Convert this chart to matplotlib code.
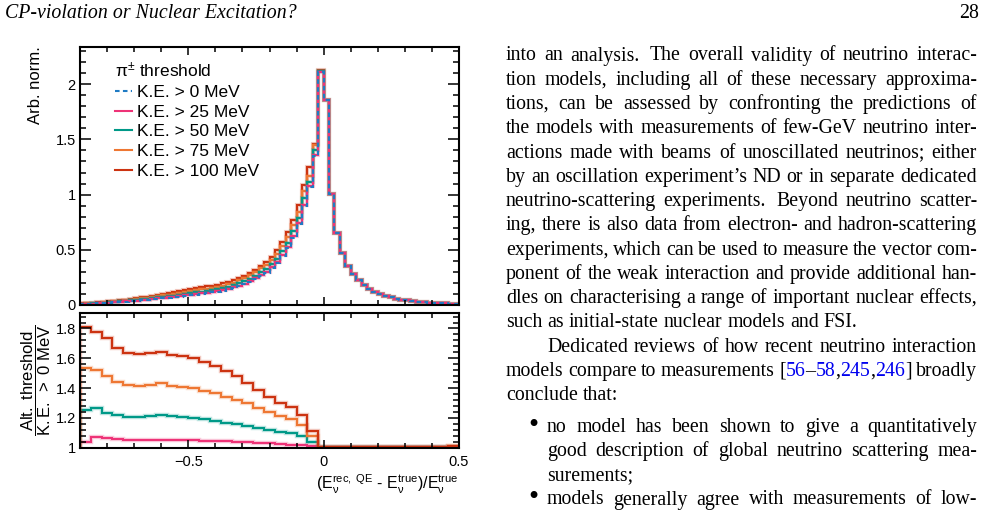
import re

import matplotlib
matplotlib.use("Agg")
import matplotlib.pyplot as plt
import numpy as np
from matplotlib.ticker import FuncFormatter, MultipleLocator

plt.rcParams["font.family"] = ["Liberation Sans", "DejaVu Sans"]
plt.rcParams["mathtext.fontset"] = "custom"
plt.rcParams["mathtext.rm"] = "Liberation Sans"
plt.rcParams["mathtext.it"] = "Liberation Sans:italic"
plt.rcParams["mathtext.bf"] = "Liberation Sans:bold"
plt.rcParams["mathtext.sf"] = "Liberation Sans"


# ---- histogram data ----
FINE_EDGES = np.linspace(-0.9, 0.5, 71)    # 0.02 wide bins, upper panel
RATIO_EDGES = np.linspace(-0.9, 0.5, 36)   # 0.04 wide bins, ratio panel

# bins with E_rec > E_true are the same for every threshold
TAIL_POS = [1.860, 1.005, 0.652, 0.468, 0.355, 0.279, 0.223, 0.177, 0.145, 0.120,
            0.100, 0.084, 0.070, 0.058, 0.049, 0.041, 0.035, 0.030, 0.026, 0.022,
            0.019, 0.016, 0.014, 0.012, 0.010]

KE0_NEG = [0.008, 0.010, 0.012, 0.014, 0.017, 0.020, 0.023, 0.026, 0.030, 0.034,
           0.038, 0.042, 0.046, 0.051, 0.056, 0.061, 0.066, 0.071, 0.077, 0.083,
           0.089, 0.095, 0.102, 0.108, 0.114, 0.121, 0.130, 0.141, 0.154, 0.169,
           0.187, 0.208, 0.233, 0.262, 0.294, 0.332, 0.380, 0.442, 0.516, 0.610,
           0.735, 0.895, 1.070, 1.350, 2.110]
KE25_NEG = [0.008, 0.010, 0.013, 0.015, 0.018, 0.021, 0.024, 0.027, 0.032, 0.036,
            0.040, 0.044, 0.048, 0.054, 0.059, 0.064, 0.069, 0.075, 0.081, 0.087,
            0.094, 0.100, 0.107, 0.113, 0.119, 0.126, 0.136, 0.147, 0.160, 0.176,
            0.194, 0.216, 0.241, 0.271, 0.303, 0.342, 0.390, 0.453, 0.526, 0.622,
            0.747, 0.909, 1.080, 1.360, 2.113]
KE50_NEG = [0.010, 0.013, 0.015, 0.018, 0.021, 0.025, 0.028, 0.032, 0.036, 0.041,
            0.046, 0.051, 0.056, 0.062, 0.068, 0.074, 0.080, 0.086, 0.093, 0.100,
            0.107, 0.114, 0.122, 0.129, 0.135, 0.143, 0.152, 0.165, 0.178, 0.196,
            0.214, 0.238, 0.263, 0.296, 0.329, 0.372, 0.421, 0.489, 0.566, 0.669,
            0.792, 0.965, 1.110, 1.405, 2.118]
KE75_NEG = [0.012, 0.015, 0.018, 0.021, 0.025, 0.030, 0.033, 0.038, 0.043, 0.048,
            0.054, 0.059, 0.065, 0.072, 0.080, 0.087, 0.093, 0.100, 0.108, 0.117,
            0.124, 0.133, 0.141, 0.149, 0.156, 0.165, 0.174, 0.189, 0.203, 0.223,
            0.243, 0.270, 0.295, 0.331, 0.365, 0.412, 0.460, 0.535, 0.617, 0.729,
            0.845, 1.030, 1.165, 1.445, 2.124]
KE100_NEG = [0.014, 0.018, 0.021, 0.024, 0.029, 0.033, 0.038, 0.043, 0.049, 0.055,
             0.062, 0.069, 0.075, 0.084, 0.092, 0.099, 0.107, 0.115, 0.124, 0.133,
             0.142, 0.151, 0.160, 0.168, 0.176, 0.185, 0.196, 0.210, 0.226, 0.245,
             0.266, 0.291, 0.320, 0.355, 0.392, 0.437, 0.495, 0.572, 0.660, 0.770,
             0.905, 1.085, 1.250, 1.460, 2.128]

RATIO25 = [1.040, 1.070, 1.063, 1.056, 1.052, 1.052, 1.050, 1.050, 1.050, 1.050,
           1.050, 1.048, 1.045, 1.042, 1.040, 1.037, 1.034, 1.030, 1.025, 1.020,
           1.016, 1.010, 1.003, 1.003, 1.003, 1.003, 1.003, 1.003, 1.003, 1.003,
           1.003, 1.003, 1.003, 1.003, 1.003]
RATIO50 = [1.253, 1.264, 1.231, 1.219, 1.208, 1.204, 1.213, 1.217, 1.213, 1.208,
           1.201, 1.193, 1.181, 1.168, 1.157, 1.146, 1.130, 1.119, 1.107, 1.096,
           1.078, 1.040, 1.003, 1.003, 1.003, 1.003, 1.003, 1.003, 1.003, 1.003,
           1.003, 1.003, 1.003, 1.003, 1.003]
RATIO75 = [1.533, 1.521, 1.481, 1.443, 1.421, 1.414, 1.421, 1.432, 1.414, 1.405,
           1.398, 1.383, 1.365, 1.342, 1.320, 1.300, 1.265, 1.240, 1.210, 1.195,
           1.150, 1.078, 1.003, 1.003, 1.003, 1.003, 1.003, 1.003, 1.003, 1.003,
           1.003, 1.003, 1.003, 1.006, 1.010]
RATIO100 = [1.812, 1.778, 1.734, 1.667, 1.638, 1.629, 1.638, 1.645, 1.622, 1.615,
            1.600, 1.577, 1.548, 1.517, 1.481, 1.436, 1.387, 1.342, 1.298, 1.271,
            1.219, 1.112, 1.004, 1.004, 1.004, 1.004, 1.004, 1.004, 1.004, 1.004,
            1.004, 1.004, 1.004, 1.008, 1.012]

LABELS = ["K.E. > 0 MeV", "K.E. > 25 MeV", "K.E. > 50 MeV", "K.E. > 75 MeV", "K.E. > 100 MeV"]
COLORS = ["#1f7bc4", "#ee3377", "#009988", "#ee7733", "#cc3311"]

# ---- page text ----
HEADER_LEFT = "CP-violation or Nuclear Excitation?"
HEADER_RIGHT = "28"
BODY_LINES = [
    "into an analysis.  The overall validity of neutrino interac-",
    "tion models, including all of these necessary approxima-",
    "tions, can be assessed by confronting the predictions of",
    "the models with measurements of few-GeV neutrino inter-",
    "actions made with beams of unoscillated neutrinos; either",
    "by an oscillation experiment\u2019s ND or in separate dedicated",
    "neutrino-scattering experiments.  Beyond neutrino scatter-",
    "ing, there is also data from electron- and hadron-scattering",
    "experiments, which can be used to measure the vector com-",
    "ponent of the weak interaction and provide additional han-",
    "dles on characterising a range of important nuclear effects,",
    "such as initial-state nuclear models and FSI.",
    "Dedicated reviews of how recent neutrino interaction",
    "models compare to measurements [{56}\u2013{58},{245},{246}] broadly",
    "conclude that:",
    "no model has been shown to give a quantitatively",
    "good description of global neutrino scattering mea-",
    "surements;",
    "models generally agree with measurements of low-",
]

W, H = 985, 515
fig = plt.figure(figsize=(W / 100, H / 100), dpi=100)


def px_box(left, top, right, bottom):
    return [left / W, 1 - bottom / H, (right - left) / W, (bottom - top) / H]


ax1 = fig.add_axes(px_box(80, 46.7, 459, 305))
ax2 = fig.add_axes(px_box(80, 312.7, 459, 447.7))

fmt = FuncFormatter(lambda v, _: f"{v:g}".replace("-", "\u2212"))

# upper panel
series = [KE0_NEG, KE25_NEG, KE50_NEG, KE75_NEG, KE100_NEG]
handles = [None] * 5
for idx in [4, 3, 2, 1, 0]:
    vals = np.array(series[idx] + TAIL_POS)
    style = (0, (2.2, 1.6)) if idx == 0 else "-"
    if idx != 0:
        ax1.stairs(vals, FINE_EDGES, color=COLORS[idx], lw=3.0, alpha=0.25)
    handles[idx] = ax1.stairs(vals, FINE_EDGES, color=COLORS[idx], lw=1.5,
                              linestyle=style, label=LABELS[idx])

ax1.set_xlim(-0.9, 0.5)
ax1.set_ylim(0, 2.34)
ax1.set_ylabel("Arb. norm.", loc="top", fontsize=12, labelpad=9)
leg = ax1.legend(handles, LABELS, title="\u03c0$^{\\pm}$ threshold", loc="upper left",
                 bbox_to_anchor=(0.092, 0.944), frameon=False, fontsize=12.5,
                 title_fontsize=12.5, handlelength=1.0, handletextpad=0.25,
                 labelspacing=0.26, borderpad=0, borderaxespad=0, alignment="left")

# ratio panel
ratios = [RATIO25, RATIO50, RATIO75, RATIO100]
for idx, r in zip([1, 2, 3, 4], ratios):
    ax2.stairs(r, RATIO_EDGES, color=COLORS[idx], lw=3.2, alpha=0.25)
    ax2.stairs(r, RATIO_EDGES, color=COLORS[idx], lw=1.5)

ax2.set_xlim(-0.9, 0.5)
ax2.set_ylim(1.0, 1.906)
ax2.set_ylabel(r"$\dfrac{\mathrm{Alt.\ threshold}}{\mathrm{K.E.}\ >\ 0\ \mathrm{MeV}}$",
               fontsize=12, labelpad=2)
ax2.set_xlabel(r"($\mathrm{E}_{\mathrm{\nu}}^{\mathrm{rec,\ QE}}$ - "
               r"$\mathrm{E}_{\mathrm{\nu}}^{\mathrm{true}}$)/$\mathrm{E}_{\mathrm{\nu}}^{\mathrm{true}}$",
               loc="right", fontsize=11.5, labelpad=3)

for ax, ymaj, ymin in [(ax1, 0.5, 0.1), (ax2, 0.2, 0.04)]:
    ax.xaxis.set_major_locator(MultipleLocator(0.5))
    ax.xaxis.set_minor_locator(MultipleLocator(0.1))
    ax.yaxis.set_major_locator(MultipleLocator(ymaj))
    ax.yaxis.set_minor_locator(MultipleLocator(ymin))
    ax.xaxis.set_major_formatter(fmt)
    ax.yaxis.set_major_formatter(fmt)
    ax.tick_params(which="both", direction="in", top=True, right=True,
                   labelsize=10.5, width=1.1, pad=3)
    ax.tick_params(axis="y", which="major", length=8)
    ax.tick_params(axis="y", which="minor", length=4)
    ax.tick_params(axis="x", which="major", length=6)
    ax.tick_params(axis="x", which="minor", length=3.5)
    for sp in ax.spines.values():
        sp.set_linewidth(1.5)
ax1.tick_params(labelbottom=False)
ax2.tick_params(axis="x", pad=5)

# ---- page text ----
renderer = fig.canvas.get_renderer()
SERIF = "Liberation Serif"
LINK_BLUE = "#0000ee"


def text_width(s, size, **kw):
    t = fig.text(0, 0, s, fontsize=size, family=SERIF, **kw)
    w = t.get_window_extent(renderer=renderer).width
    t.remove()
    return w


body_size = 10 * 350.0 / text_width(BODY_LINES[11], 10)


def segments(word):
    out = []
    for part in re.split(r"(\{[^}]*\})", word):
        if not part:
            continue
        if part.startswith("{"):
            out.append((part[1:-1], LINK_BLUE))
        else:
            out.append((part, "black"))
    return out


def draw_line(line, x0, x1, y_base, justify):
    pieces = re.split(r"( +)", line)
    words = pieces[0::2]
    gaps = [len(g) ** 0.6 for g in pieces[1::2]]
    segs = [segments(w) for w in words]
    widths = [[text_width(s, body_size) for s, _ in sg] for sg in segs]
    total = sum(sum(w) for w in widths)
    if justify and gaps:
        unit = (x1 - x0 - total) / sum(gaps)
    else:
        unit = text_width("a a", body_size) - text_width("aa", body_size)
    x = x0
    for i, sg in enumerate(segs):
        for (s, c), w in zip(sg, widths[i]):
            fig.text(x / W, 1 - y_base / H, s, fontsize=body_size, family=SERIF,
                     color=c, va="baseline", ha="left")
            x += w
        if i < len(gaps):
            x += gaps[i] * unit


TEXT_L, TEXT_R, INDENT = 506, 977, 547
layout = []
for k in range(15):
    layout.append((55 + 24.26 * k, TEXT_L, True))
layout[11] = (layout[11][0], TEXT_L, False)
layout[12] = (layout[12][0], INDENT, True)
layout[14] = (layout[14][0], TEXT_L, False)
layout += [(426.7, INDENT, True), (450.7, INDENT, True), (474.7, INDENT, False), (499.0, INDENT, True)]

for line, (yc, x0, just) in zip(BODY_LINES, layout):
    draw_line(line, x0, TEXT_R, yc + 5.5, just)

for yc in (426.7, 499.0):
    fig.text(528 / W, 1 - (yc + 6.5) / H, "\u2022", fontsize=body_size * 1.45, family=SERIF,
             va="baseline", ha="left")

fig.text(5 / W, 1 - 18 / H, HEADER_LEFT, fontsize=body_size, family=SERIF,
         style="italic", va="baseline", ha="left")
fig.text(979 / W, 1 - 18 / H, HEADER_RIGHT, fontsize=body_size, family=SERIF,
         va="baseline", ha="right")

fig.savefig("out.png", dpi=100)
